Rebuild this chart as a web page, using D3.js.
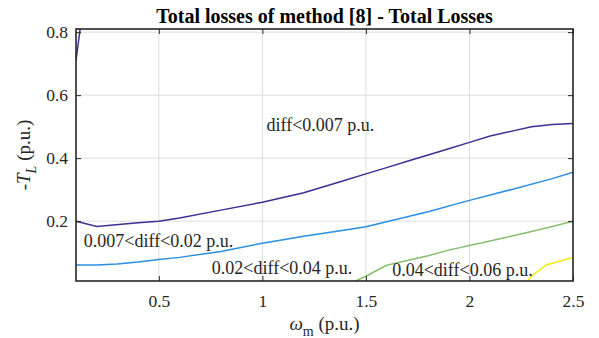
<!DOCTYPE html>
<html>
<head>
<meta charset="utf-8">
<script src="https://cdn.jsdelivr.net/npm/d3@7"></script>
<style>
  body { margin: 0; background: #fff; }
  text { font-family: "Liberation Serif", "Times New Roman", serif; fill: #262626; }
</style>
</head>
<body>
<svg id="contour-plot" width="599" height="338"></svg>
<script>

// contour level lines (omega_m, -T_L)
const level_007_a = [[0.1, 0.71], [0.12, 0.81]];
const level_007_b = [[0.1, 0.2], [0.2, 0.183], [0.4, 0.195], [0.5, 0.2], [0.6, 0.21], [0.8, 0.235],
	[1.0, 0.26], [1.2, 0.29], [1.3, 0.31], [1.4, 0.33], [1.5, 0.35], [1.6, 0.37], [1.7, 0.39],
	[1.8, 0.41], [1.9, 0.43], [2.0, 0.45], [2.1, 0.47], [2.2, 0.485], [2.3, 0.5], [2.4, 0.507], [2.5, 0.51]];
const level_02 = [[0.1, 0.061], [0.2, 0.061], [0.3, 0.064], [0.4, 0.07], [0.5, 0.078], [0.6, 0.085],
	[0.8, 0.104], [1.0, 0.13], [1.2, 0.152], [1.4, 0.172], [1.5, 0.182], [1.6, 0.198], [1.8, 0.23],
	[2.0, 0.266], [2.2, 0.3], [2.4, 0.335], [2.5, 0.355]];
const level_04 = [[1.45, 0.01], [1.5, 0.025], [1.6, 0.06], [1.7, 0.075], [1.8, 0.09], [1.9, 0.108],
	[2.0, 0.123], [2.1, 0.137], [2.2, 0.152], [2.3, 0.167], [2.4, 0.183], [2.5, 0.2]];
const level_06 = [[2.28, 0.01], [2.3, 0.025], [2.37, 0.061], [2.5, 0.085]];

const line_colors = ["#3f2d95", "#3f2d95", "#2a8ee3", "#86c06f", "#f2ea10"];

const region_labels = ["diff<0.007 p.u.", "0.007<diff<0.02 p.u.", "0.02<diff<0.04 p.u.", "0.04<diff<0.06 p.u."];
const label_pos = [[1.02, 0.486], [0.138, 0.118], [0.756, 0.032], [1.627, 0.026]];

const x_ticks = [0.5, 1, 1.5, 2, 2.5];
const y_ticks = [0.2, 0.4, 0.6, 0.8];

const svg = d3.select('#contour-plot');
const margin = {left: 76, right: 26, top: 29, bottom: 57};
const width = 599 - margin.left - margin.right;
const height = 338 - margin.top - margin.bottom;

const x = d3.scaleLinear().domain([0.1, 2.5]).range([0, width]);
const y = d3.scaleLinear().domain([0.01, 0.81]).range([height, 0]);

const g = svg.append("g")
	.attr("transform", "translate(" + margin.left + "," + margin.top + ")");

// grid
g.append("g").selectAll("line").data(x_ticks).enter().append("line")
	.attr("x1", d => x(d)).attr("x2", d => x(d))
	.attr("y1", 0).attr("y2", height)
	.attr("stroke", "#dcdcdc").attr("stroke-width", 1);
g.append("g").selectAll("line").data(y_ticks).enter().append("line")
	.attr("x1", 0).attr("x2", width)
	.attr("y1", d => y(d)).attr("y2", d => y(d))
	.attr("stroke", "#dcdcdc").attr("stroke-width", 1);

// lines
svg.append("defs").append("clipPath").attr("id", "plot-clip")
	.append("rect").attr("width", width).attr("height", height);

const line = d3.line().x(d => x(d[0])).y(d => y(d[1]));
const all_lines = [level_007_a, level_007_b, level_02, level_04, level_06];

g.append("g").attr("clip-path", "url(#plot-clip)")
	.selectAll("path").data(all_lines).enter().append("path")
	.attr("d", line)
	.attr("fill", "none")
	.attr("stroke", (d, i) => line_colors[i])
	.attr("stroke-width", 1.5);

// region labels
g.selectAll(".region-label").data(region_labels).enter().append("text")
	.attr("class", "region-label")
	.attr("x", (d, i) => x(label_pos[i][0]))
	.attr("y", (d, i) => y(label_pos[i][1]))
	.attr("font-size", "18px")
	.attr("fill", "#1a1a1a")
	.text(d => d);

// axes with inward ticks
const x_axis = d3.axisBottom(x).tickValues(x_ticks).tickSizeInner(-5).tickSizeOuter(0).tickPadding(14).tickFormat(d3.format(""));
const y_axis = d3.axisLeft(y).tickValues(y_ticks).tickSizeInner(-5).tickSizeOuter(0).tickPadding(8).tickFormat(d3.format(""));

const gx = g.append("g").attr("transform", "translate(0," + height + ")").call(x_axis);
const gy = g.append("g").call(y_axis);
const gx_top = g.append("g").call(d3.axisTop(x).tickValues(x_ticks).tickSizeInner(-5).tickSizeOuter(0).tickFormat(""));
const gy_right = g.append("g").attr("transform", "translate(" + width + ",0)")
	.call(d3.axisRight(y).tickValues(y_ticks).tickSizeInner(-5).tickSizeOuter(0).tickFormat(""));

[gx, gy, gx_top, gy_right].forEach(a => {
	a.select(".domain").remove();
	a.selectAll("line").attr("stroke", "#262626");
	a.selectAll("text").attr("font-size", "17.5px").attr("fill", "#262626")
		.style("font-family", "Liberation Serif, serif");
});

// box
g.append("rect").attr("width", width).attr("height", height)
	.attr("fill", "none").attr("stroke", "#262626").attr("stroke-width", 1.6);

// title
svg.append("text")
	.attr("x", margin.left + width / 2).attr("y", 23)
	.attr("text-anchor", "middle")
	.attr("font-size", "20px").attr("font-weight", "bold")
	.style("fill", "#000")
	.text("Total losses of method [8] - Total Losses");

// x label
const xl = svg.append("text")
	.attr("x", margin.left + width / 2).attr("y", 330)
	.attr("text-anchor", "middle")
	.attr("font-size", "19px");
xl.append("tspan").attr("font-style", "italic").text("ω");
xl.append("tspan").attr("font-size", "14px").attr("dy", 6).text("m");
xl.append("tspan").attr("dy", -6).text(" (p.u.)");

// y label
const yl = svg.append("text")
	.attr("transform", "translate(30," + (margin.top + height / 2) + ") rotate(-90)")
	.attr("text-anchor", "middle")
	.attr("font-size", "19px");
yl.append("tspan").text("-");
yl.append("tspan").attr("font-style", "italic").text("T");
yl.append("tspan").attr("font-size", "14px").attr("font-style", "italic").attr("dy", 6).text("L");
yl.append("tspan").attr("dy", -6).text(" (p.u.)");

</script>
</body>
</html>
